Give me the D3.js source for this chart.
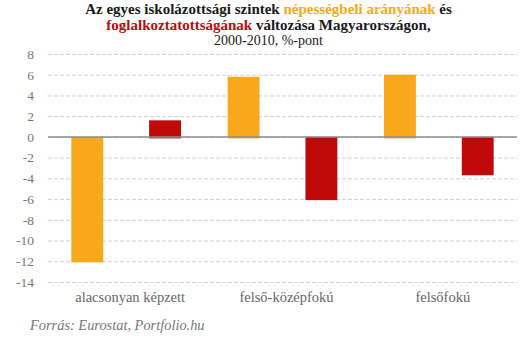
<!DOCTYPE html>
<html>
<head>
<meta charset="utf-8">
<script src="https://cdn.jsdelivr.net/npm/d3@7"></script>
<style>
  body { margin: 0; background: #fff; }
  svg text { font-family: Georgia, "Liberation Serif", "DejaVu Serif", serif; }
</style>
</head>
<body>
<div id="chart"></div>
<script>
// data
const categories = ["alacsonyan képzett", "felső-középfokú", "felsőfokú"];
const series = ["népesség", "foglalkoztatottság"];
const populationShare = [-12.1, 5.8, 6.0];
const employment = [1.6, -6.1, -3.7];
const yTicks = [8, 6, 4, 2, 0, -2, -4, -6, -8, -10, -12, -14];

const colors = {"népesség": "#F9A81B", "foglalkoztatottság": "#C00A0A"};

const width = 531, height = 342;
const margin = {top: 54, right: 14, bottom: 60, left: 48};

const svg = d3.select("#chart")
  .append("svg")
    .attr("width", width)
    .attr("height", height);

const x = d3.scaleBand()
  .domain(categories)
  .range([margin.left, width - margin.right]);

const xInner = d3.scaleBand()
  .domain(series)
  .range([0, x.bandwidth()])
  .paddingInner(0.59)
  .paddingOuter(0.3);

const y = d3.scaleLinear()
  .domain([-14, 8])
  .range([height - margin.bottom, margin.top]);

// gridlines + tick labels
const yAxis = svg.append("g")
  .attr("transform", "translate(" + margin.left + ",0)")
  .call(d3.axisLeft(y).tickValues(yTicks).tickSize(-(width - margin.left - margin.right)).tickFormat(d => d));
yAxis.select(".domain").remove();
yAxis.selectAll(".tick line")
  .attr("stroke", "#d0d0d0")
  .attr("stroke-dasharray", "4,2")
  .attr("x1", 0);
yAxis.selectAll(".tick text")
  .attr("x", -14)
  .attr("fill", "#777")
  .style("font-size", "13.5px");

// bars
const rows = categories.map((c, i) => ({cat: c, vals: [populationShare[i], employment[i]]}));
const groups = svg.selectAll(".grp")
  .data(rows)
  .enter().append("g")
    .attr("class", "grp")
    .attr("transform", d => "translate(" + x(d.cat) + ",0)");

groups.selectAll("rect")
  .data(d => series.map((s, j) => ({s: s, v: d.vals[j]})))
  .enter().append("rect")
    .attr("x", d => xInner(d.s))
    .attr("width", xInner.bandwidth())
    .attr("y", d => d.v > 0 ? y(d.v) : y(0))
    .attr("height", d => Math.abs(y(d.v) - y(0)) + (d.v > 0 ? 1.5 : 0))
    .attr("fill", d => colors[d.s]);

// zero line
svg.append("line")
  .attr("x1", margin.left)
  .attr("x2", width - margin.right)
  .attr("y1", y(0))
  .attr("y2", y(0))
  .attr("stroke", "#8c8c8c")
  .attr("stroke-width", 1.5);

// category labels
svg.selectAll(".cat")
  .data(categories)
  .enter().append("text")
    .attr("class", "cat")
    .attr("x", d => x(d) + x.bandwidth() / 2 + 4)
    .attr("y", height - margin.bottom + 20)
    .attr("text-anchor", "middle")
    .attr("fill", "#666")
    .style("font-size", "14.5px")
    .text(d => d);

// title
const t1 = svg.append("text")
  .attr("x", width / 2 + 3).attr("y", 14)
  .attr("text-anchor", "middle")
  .style("font-size", "15px").style("font-weight", "bold")
  .attr("fill", "#1a1a1a");
t1.append("tspan").text("Az egyes iskolázottsági szintek ");
t1.append("tspan").attr("fill", colors["népesség"]).text("népességbeli arányának");
t1.append("tspan").text(" és");

const t2 = svg.append("text")
  .attr("x", width / 2 + 3).attr("y", 30)
  .attr("text-anchor", "middle")
  .style("font-size", "15px").style("font-weight", "bold")
  .attr("fill", "#1a1a1a");
t2.append("tspan").attr("fill", colors["foglalkoztatottság"]).text("foglalkoztatottságának");
t2.append("tspan").text(" változása Magyarországon,");

svg.append("text")
  .attr("x", width / 2 + 3).attr("y", 45)
  .attr("text-anchor", "middle")
  .style("font-size", "14px")
  .attr("fill", "#1a1a1a")
  .text("2000-2010, %-pont");

// source
svg.append("text")
  .attr("x", 30).attr("y", 330)
  .style("font-size", "14.4px").style("font-style", "italic")
  .attr("fill", "#777")
  .text("Forrás: Eurostat, Portfolio.hu");
</script>
</body>
</html>
